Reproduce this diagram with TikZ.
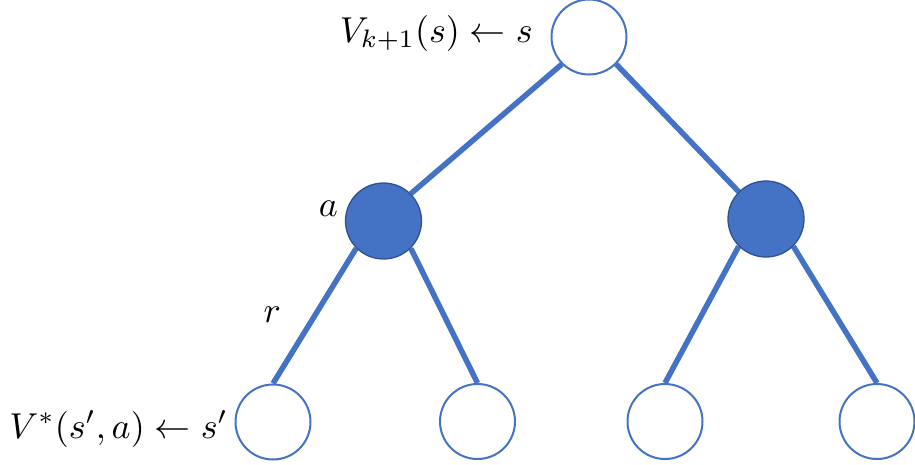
\documentclass[tikz,border=0pt]{standalone}
\usepackage{graphicx}
\usetikzlibrary{backgrounds}
\definecolor{lineblue}{HTML}{4472C4}
\definecolor{darkblue}{HTML}{2F528F}
\newcommand{\biglab}[1]{\scalebox{3.6}{#1}}
\begin{document}
\begin{tikzpicture}[x=1pt,y=-1pt,
  emptynode/.style={circle,draw=lineblue,line width=2pt,fill=white,minimum size=75pt,inner sep=0pt},
  fullnode/.style={circle,draw=darkblue,line width=1.3pt,fill=lineblue,minimum size=76pt,inner sep=0pt},
  edge/.style={draw=lineblue,line width=5.5pt},
  lab/.style={inner sep=0pt}]
\useasboundingbox (0,0) rectangle (915,464);
\node[emptynode] (root) at (589,37) {};
\node[fullnode] (a1) at (383.5,221) {};
\node[fullnode] (a2) at (766,219) {};
\node[emptynode] (l1) at (273,422) {};
\node[emptynode] (l2) at (477.5,421.5) {};
\node[emptynode] (l3) at (665,421.5) {};
\node[emptynode] (l4) at (877,421.5) {};
\begin{scope}[on background layer]
\draw[edge] (root.south west) -- (a1.north east);
\draw[edge] (root.south east) -- (a2.north west);
\draw[edge] (a1.south west) -- (l1.north);
\draw[edge] (a1.south east) -- (l2.north);
\draw[edge] (a2.south west) -- (l3.north);
\draw[edge] (a2.south east) -- (l4.north);
\end{scope}
\node[lab,anchor=base east] (t1) at (533,42) {\biglab{$V_{k+1}(s)\leftarrow s$}};
\node[lab,anchor=base east] (t2) at (228,438) {\biglab{$V^{*}(s',a)\leftarrow s'$}};
\node[lab,anchor=base east] (ta) at (338,216) {\biglab{$a$}};
\node[lab,anchor=base east] (tr) at (281,322) {\biglab{$r$}};
\end{tikzpicture}
\end{document}
